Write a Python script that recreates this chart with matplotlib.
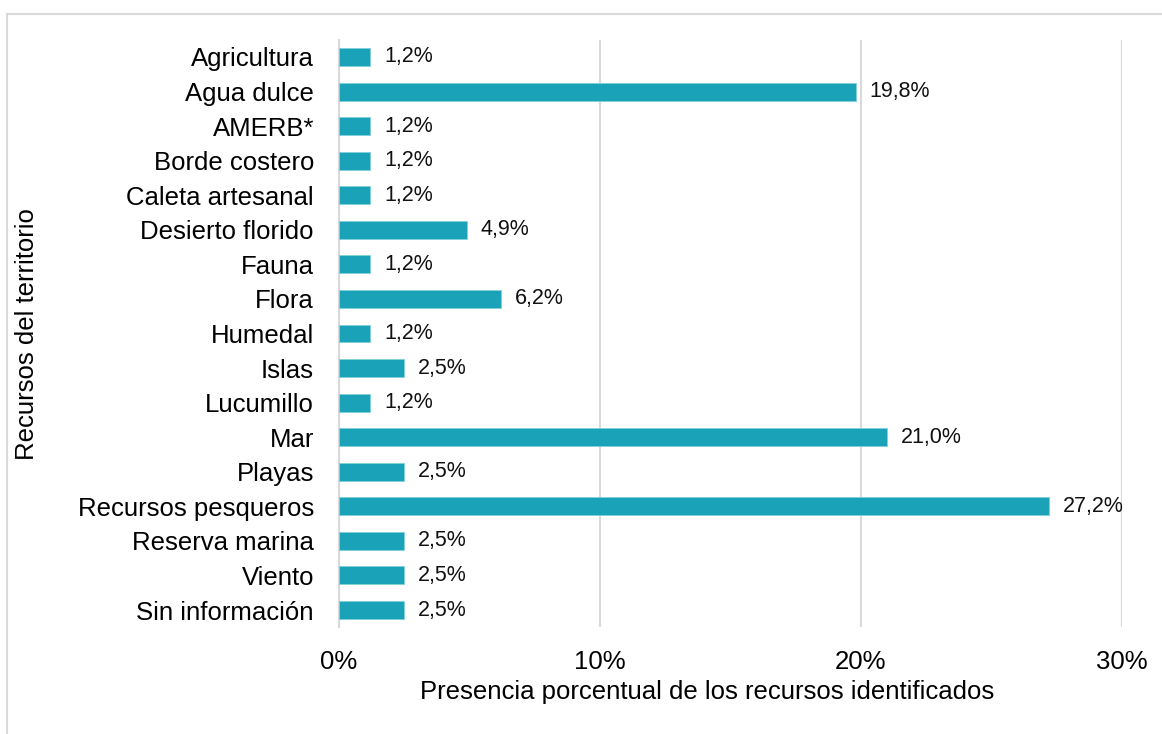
import matplotlib.pyplot as plt
from matplotlib.patches import Rectangle
from matplotlib.ticker import FuncFormatter

plt.rcParams['font.family'] = ['Liberation Sans', 'DejaVu Sans']

categories = ['Agricultura', 'Agua dulce', 'AMERB*', 'Borde costero', 'Caleta artesanal',
              'Desierto florido', 'Fauna', 'Flora', 'Humedal', 'Islas', 'Lucumillo', 'Mar',
              'Playas', 'Recursos pesqueros', 'Reserva marina', 'Viento', 'Sin información']
values = [1.2, 19.8, 1.2, 1.2, 1.2, 4.9, 1.2, 6.2, 1.2, 2.5, 1.2, 21.0, 2.5, 27.2, 2.5, 2.5, 2.5]
xticks = [0, 10, 20, 30]

BAR = '#1aa3b8'

fig = plt.figure(figsize=(11.62, 7.34), dpi=100)
fig.patches.append(Rectangle((7 / 1162, -0.1), 1.2, (734 - 14) / 734 + 0.1, transform=fig.transFigure,
                             fill=False, edgecolor='#d9d9d9', linewidth=1.5))
ax = fig.add_axes([339 / 1162, 1 - 627.3 / 734, (1122 - 339) / 1162, (627.3 - 39.7) / 734])

ypos = list(range(len(categories)))
ax.barh(ypos, values, height=0.52, color=BAR, edgecolor='#7fd0dc', linewidth=0.6, zorder=3)
for y, v in zip(ypos, values):
    ax.annotate(f'{v:.1f}%'.replace('.', ','), (v, y), xytext=(10, 0), textcoords='offset points',
                va='center', ha='left', fontsize=15.5, color='#111111')

ax.set_ylim(len(categories) - 0.5, -0.5)
ax.set_xlim(0, 30)
ax.set_yticks(ypos)
ax.set_yticklabels(categories, fontsize=18.5)
ax.set_xticks(xticks)
ax.xaxis.set_major_formatter(FuncFormatter(lambda x, p: f'{x:.0f}%'))
ax.tick_params(axis='x', length=0, labelsize=18.5, pad=16)
ax.tick_params(axis='y', length=0, pad=18)
ax.grid(axis='x', color='#d9d9d9', linewidth=1.5, zorder=0)
for s in ['top', 'right', 'bottom']:
    ax.spines[s].set_visible(False)
ax.spines['left'].set_color('#d9d9d9')
ax.spines['left'].set_linewidth(1.5)

ax.set_xlabel('Presencia porcentual de los recursos identificados', fontsize=18.5)
ax.xaxis.set_label_coords(0.47, -0.11, transform=ax.transAxes)
ax.xaxis.label.set_va('center')
fig.text(27 / 1162, 1 - 334 / 734, 'Recursos del territorio', rotation=90, fontsize=18.5,
         ha='center', va='center')

fig.savefig('out.png')
